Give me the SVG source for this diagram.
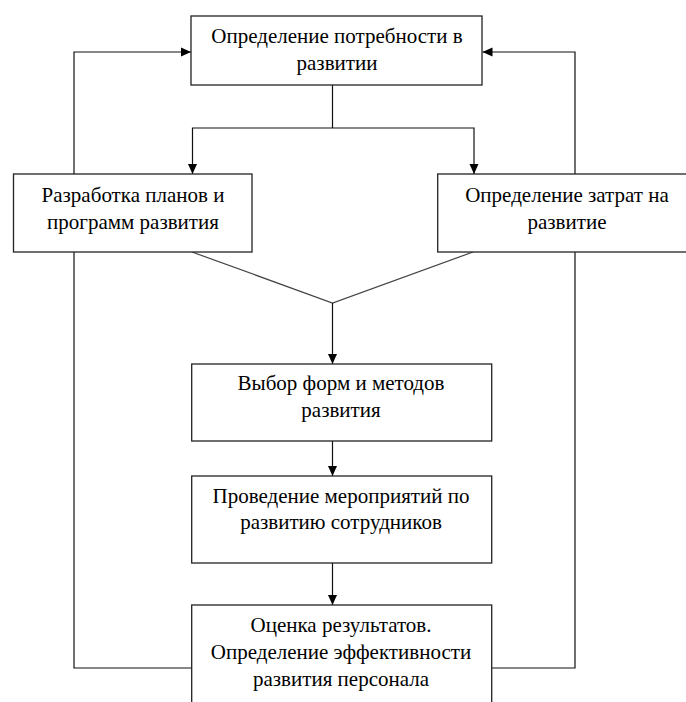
<svg xmlns="http://www.w3.org/2000/svg" width="686" height="702" viewBox="0 0 686 702">
<style>
.box{fill:#fff;stroke:#222;stroke-width:1.3}
.c{fill:none;stroke:#111;stroke-width:1.2}
.d{fill:none;stroke:#444;stroke-width:1.2}
.t{font-family:"Liberation Serif","Times New Roman",serif;font-size:21px;fill:#000;text-anchor:middle}
</style>
<defs>
<marker id="ah" markerUnits="userSpaceOnUse" markerWidth="10" markerHeight="10" viewBox="0 0 10 10" refX="10" refY="5" orient="auto">
<path d="M0,0.5 L10,5 L0,9.5 Z" fill="#000"/>
</marker>
</defs>
<g id="connectors">
<path class="c" d="M332.5,85 V128"/>
<path class="c" d="M332.5,128 H192.5 V174" marker-end="url(#ah)"/>
<path class="c" d="M332.5,128 H474 V174" marker-end="url(#ah)"/>
<path class="d" d="M192,252 L332.5,303 L473,252"/>
<path class="c" d="M332.5,303 V364" marker-end="url(#ah)"/>
<path class="c" d="M332.5,441 V476" marker-end="url(#ah)"/>
<path class="c" d="M332.5,563 V605" marker-end="url(#ah)"/>
<path class="c" d="M192,668 H74 V52 H191" marker-end="url(#ah)"/>
<path class="c" d="M492,668 H575 V52 H482.5" marker-end="url(#ah)"/>
</g>
<g id="n1">
<rect class="box" x="191" y="16" width="291" height="69"/>
<text class="t" x="337" y="43">Определение потребности в</text>
<text class="t" x="337" y="70">развитии</text>
</g>
<g id="n2">
<rect class="box" x="13.5" y="174" width="238.5" height="78"/>
<text class="t" x="133" y="202">Разработка планов и</text>
<text class="t" x="133" y="229">программ развития</text>
</g>
<g id="n3">
<rect class="box" x="437.7" y="174" width="262" height="78"/>
<text class="t" x="567" y="202">Определение затрат на</text>
<text class="t" x="567" y="229">развитие</text>
</g>
<g id="n4">
<rect class="box" x="191.7" y="364" width="300" height="77"/>
<text class="t" x="341" y="390">Выбор форм и методов</text>
<text class="t" x="341" y="417">развития</text>
</g>
<g id="n5">
<rect class="box" x="191.7" y="476" width="300" height="87"/>
<text class="t" x="341" y="502.5">Проведение мероприятий по</text>
<text class="t" x="341" y="529">развитию сотрудников</text>
</g>
<g id="n6">
<rect class="box" x="191.7" y="605" width="300" height="120"/>
<text class="t" x="341" y="632">Оценка результатов.</text>
<text class="t" x="341" y="659">Определение эффективности</text>
<text class="t" x="341" y="686">развития персонала</text>
</g>
</svg>
